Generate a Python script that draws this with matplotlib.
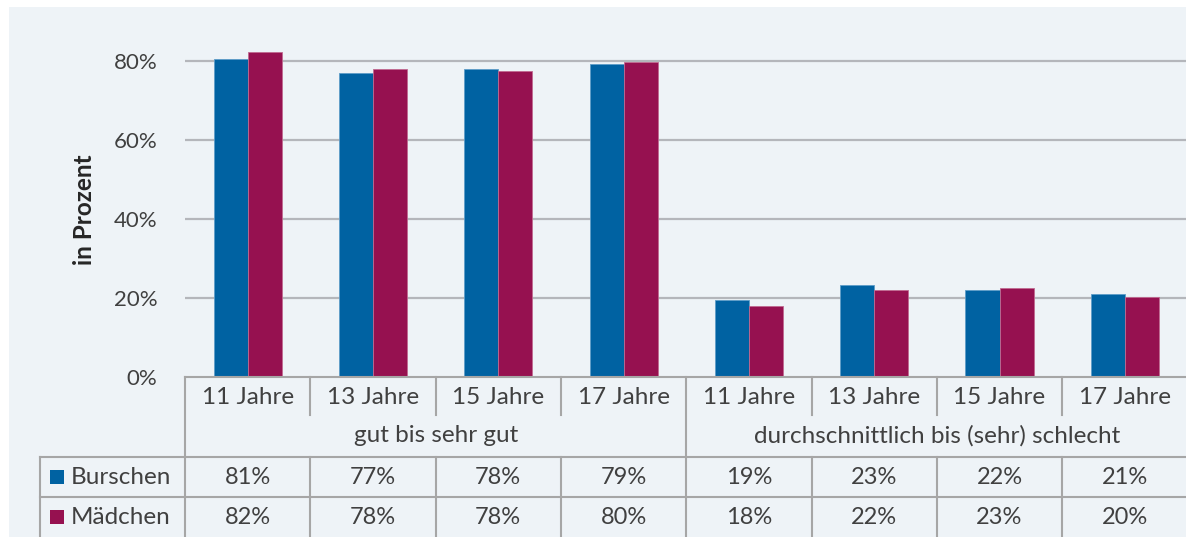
import matplotlib
matplotlib.use("Agg")
import matplotlib.pyplot as plt
from matplotlib.patches import Rectangle
from matplotlib.lines import Line2D

# ---- data ----
categories = ["11 Jahre", "13 Jahre", "15 Jahre", "17 Jahre",
              "11 Jahre", "13 Jahre", "15 Jahre", "17 Jahre"]
groups = ["gut bis sehr gut", "durchschnittlich bis (sehr) schlecht"]
series_names = ["Burschen", "Mädchen"]
burschen = [0.806, 0.769, 0.780, 0.792, 0.195, 0.232, 0.220, 0.209]
maedchen = [0.822, 0.780, 0.775, 0.797, 0.179, 0.220, 0.225, 0.203]
burschen_labels = ["81%", "77%", "78%", "79%", "19%", "23%", "22%", "21%"]
maedchen_labels = ["82%", "78%", "78%", "80%", "18%", "22%", "23%", "20%"]
yticks = [0, 0.2, 0.4, 0.6, 0.8]
ytick_labels = ["0%", "20%", "40%", "60%", "80%"]

# ---- style ----
W, H = 1186, 537
BG = "#EEF3F7"
BLUE = "#0062A2"
RED = "#961150"
GRID = "#B4B6BB"
TLINE = "#A6A6A6"
TXT = "#404040"
FONT = ["Lato", "DejaVu Sans"]
FS = 16      # axis numbers
FST = 17     # table numbers
FSW = 17.5   # words
plt.rcParams["font.family"] = FONT

fig = plt.figure(figsize=(W / 100, H / 100), dpi=100)
fig.patch.set_facecolor("white")
fig.patches.append(Rectangle((9 / W, 0), 1 - 9 / W, 1 - 7 / H, transform=fig.transFigure,
                             facecolor=BG, edgecolor="none", zorder=-10))

# axes in pixel units
x0, x1 = 185, 1187.5
y_zero, y80 = 377, 61
ymax = 0.9
px_per_unit = (y_zero - y80) / 0.8
top = y_zero - ymax * px_per_unit
ax = fig.add_axes([x0 / W, 1 - y_zero / H, (x1 - x0) / W, (y_zero - top) / H])
ax.set_facecolor("none")
ax.set_xlim(-0.5, len(categories) - 0.5)
ax.set_ylim(0, ymax)

n = len(categories)
xs = list(range(n))
bw = 0.272
ax.bar([x - bw / 2 for x in xs], burschen, width=bw, color=BLUE, edgecolor="#5D9CC8",
       linewidth=0.6, zorder=3)
ax.bar([x + bw / 2 for x in xs], maedchen, width=bw, color=RED, edgecolor="#C06A90",
       linewidth=0.6, zorder=3)

for s in ax.spines.values():
    s.set_visible(False)
ax.set_xticks([])
ax.set_yticks(yticks)
ax.set_yticklabels(ytick_labels, fontsize=FS, color=TXT)
ax.tick_params(axis="y", length=0, pad=20)
for yv in yticks[1:]:
    ax.axhline(yv, color=GRID, linewidth=1.6, zorder=1)

fig.text(84 / W, 1 - 210 / H, "in Prozent", rotation=90, ha="center", va="center",
         fontsize=FSW, fontweight="bold", color="#262626")

# ---- table (drawn in figure pixel coordinates) ----
def fx(px):
    return px / W

def fy(py):
    return 1 - py / H

def hline(xa, xb, py):
    fig.add_artist(Line2D([fx(xa), fx(xb)], [fy(py), fy(py)], color=TLINE, linewidth=1.5,
                          transform=fig.transFigure))

def vline(px, ya, yb):
    fig.add_artist(Line2D([fx(px), fx(px)], [fy(ya), fy(yb)], color=TLINE, linewidth=1.5,
                          transform=fig.transFigure))

cw = (x1 - x0) / n
bounds = [x0 + i * cw for i in range(n + 1)]
r0, r1, r2, r3, r4 = 377, 415, 457, 497, 540
hline(x0, W + 5, r0)
hline(40, W + 5, r2)
hline(40, W + 5, r3)
vline(x0, r0, r4)
vline(40, r2, r4)
for i in range(1, n):
    if i == n // 2:
        vline(bounds[i], r0, r4)
    else:
        vline(bounds[i], r0, r1)
        vline(bounds[i], r2, r4)

for i in range(n):
    cx = (bounds[i] + bounds[i + 1]) / 2
    fig.text(fx(cx), fy((r0 + r1) / 2 + 1), categories[i], ha="center", va="center",
             fontsize=FSW, color=TXT)
    fig.text(fx(cx), fy((r2 + r3) / 2), burschen_labels[i], ha="center", va="center",
             fontsize=FST, color=TXT)
    fig.text(fx(cx), fy((r3 + 537) / 2), maedchen_labels[i], ha="center", va="center",
             fontsize=FST, color=TXT)

half = n // 2
for g in range(2):
    cx = (bounds[g * half] + bounds[(g + 1) * half]) / 2
    fig.text(fx(cx), fy((r1 + r2) / 2), groups[g], ha="center", va="center",
             fontsize=FSW, color=TXT)

for name, col, yc in [(series_names[0], BLUE, (r2 + r3) / 2), (series_names[1], RED, (r3 + 537) / 2)]:
    fig.patches.append(Rectangle((fx(50), fy(yc + 7)), 14 / W, 14 / H, transform=fig.transFigure,
                                 facecolor=col, edgecolor="none"))
    fig.text(fx(71), fy(yc), name, ha="left", va="center", fontsize=FSW, color=TXT)

fig.savefig("out.png", dpi=100, facecolor="white")
